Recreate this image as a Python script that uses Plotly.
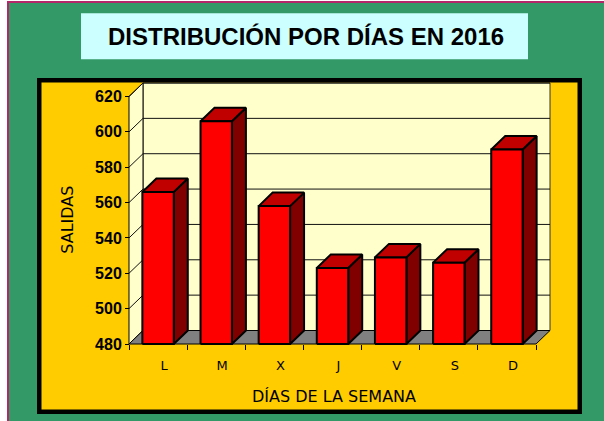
import plotly.graph_objects as go

# ---------------- data ----------------
DIAS = ["L", "M", "X", "J", "V", "S", "D"]
SALIDAS = [566, 606, 558, 523, 529, 526, 590]
Y_TICKS = [480, 500, 520, 540, 560, 580, 600, 620]

TITLE = "DISTRIBUCIÓN POR DÍAS EN 2016"
Y_TITLE = "SALIDAS"
X_TITLE = "DÍAS DE LA SEMANA"

# ---------------- geometry (pixels) ----------------
W, H = 604, 421
FRONT_L, FRONT_R = 129, 536      # front x axis extent
FRONT_B, FRONT_T = 344, 96.5     # pixel rows of first / last y tick
DEPTH_X, DEPTH_Y = 14, 13.5      # pseudo-3D depth
PAD = 3
BAR_W = 0.54

Y_MIN, Y_MAX = Y_TICKS[0], Y_TICKS[-1]
n = len(DIAS)
ux = (FRONT_R - FRONT_L) / n
uy = (FRONT_B - FRONT_T) / (Y_MAX - Y_MIN)
DX = DEPTH_X / ux
DY = DEPTH_Y / uy

x_lo = -0.5 - PAD / ux
x_hi = n - 0.5 + DX + PAD / ux
y_lo = Y_MIN - PAD / uy
y_hi = Y_MAX + DY + PAD / uy

ML = FRONT_L - PAD
MR = W - (FRONT_R + DEPTH_X + PAD)
MB = H - (FRONT_B + PAD)
MT = FRONT_T - DEPTH_Y - PAD
PW = W - ML - MR
PH = H - MT - MB


def px(x):
    return (x - ML) / PW


def py(y):
    return (H - MB - y) / PH


GREEN = "#339966"
BORDER = "#B4286A"
YELLOW = "#FFCC00"
WALL = "#FFFFCC"
FLOOR = "#808080"
CYAN = "#CCFFFF"
RED = "#FF0000"
RED_TOP = "#C00000"
RED_SIDE = "#800000"

fig = go.Figure()


def poly(xs, ys, fill, lw=1, lc="black"):
    fig.add_trace(go.Scatter(
        x=xs, y=ys, mode="lines", fill="toself", fillcolor=fill,
        line=dict(color=lc, width=lw), hoverinfo="skip", showlegend=False))


xl0, xr0 = -0.5, n - 0.5
# back wall
poly([xl0 + DX, xr0 + DX, xr0 + DX, xl0 + DX, xl0 + DX],
     [Y_MIN + DY, Y_MIN + DY, Y_MAX + DY, Y_MAX + DY, Y_MIN + DY], WALL, 1, "#333333")
# side wall
poly([xl0, xl0 + DX, xl0 + DX, xl0, xl0],
     [Y_MIN, Y_MIN + DY, Y_MAX + DY, Y_MAX, Y_MIN], WALL, 1, "black")
# grid lines
gx, gy = [], []
for v in Y_TICKS[1:]:
    gx += [xl0, xl0 + DX, xr0 + DX, None]
    gy += [v, v + DY, v + DY, None]
fig.add_trace(go.Scatter(x=gx, y=gy, mode="lines", line=dict(color="#111111", width=1),
                         hoverinfo="skip", showlegend=False))
# floor
poly([xl0, xr0, xr0 + DX, xl0 + DX, xl0],
     [Y_MIN, Y_MIN, Y_MIN + DY, Y_MIN + DY, Y_MIN], FLOOR, 1, "black")

# bars
for i, v in enumerate(SALIDAS):
    a, b = i - BAR_W / 2, i + BAR_W / 2
    poly([b, b + DX, b + DX, b, b], [Y_MIN, Y_MIN + DY, v + DY, v, Y_MIN], RED_SIDE, 2)
    poly([a, b, b + DX, a + DX, a], [v, v, v + DY, v + DY, v], RED_TOP, 2)
    poly([a, b, b, a, a], [Y_MIN, Y_MIN, v, v, Y_MIN], RED, 2)

shapes = [
    dict(type="rect", xref="paper", yref="paper", layer="below",
         x0=px(8), x1=px(W + 30), y0=py(2), y1=py(H + 30),
         fillcolor=GREEN, line=dict(color=BORDER, width=2)),
    dict(type="rect", xref="paper", yref="paper", layer="below",
         x0=px(39.25), x1=px(579.75), y0=py(80.25), y1=py(411.75),
         fillcolor=YELLOW, line=dict(color="black", width=4.5)),
    dict(type="rect", xref="paper", yref="paper", layer="below",
         x0=px(81), x1=px(528), y0=py(13.3), y1=py(59.3),
         fillcolor=CYAN, line=dict(width=0)),
]

annotations = [
    dict(text=TITLE, x=px(306), y=py(36), xref="paper", yref="paper",
         showarrow=False, xanchor="center", yanchor="middle",
         font=dict(family="Liberation Sans, Arial, sans-serif", size=24, color="black", weight="bold")),
    dict(text=Y_TITLE, x=px(66.7), y=py(220), xref="paper", yref="paper", textangle=-90,
         showarrow=False, xanchor="center", yanchor="middle",
         font=dict(family="DejaVu Sans, sans-serif", size=16, color="black")),
    dict(text=X_TITLE, x=px(334), y=py(396), xref="paper", yref="paper",
         showarrow=False, xanchor="center", yanchor="middle",
         font=dict(family="DejaVu Sans, sans-serif", size=16, color="black")),
]

fig.update_layout(
    width=W, height=H, autosize=False,
    margin=dict(l=ML, r=MR, t=MT, b=MB, pad=0),
    paper_bgcolor="white", plot_bgcolor="rgba(0,0,0,0)",
    showlegend=False, hovermode=False,
    shapes=shapes, annotations=annotations,
    xaxis=dict(range=[x_lo, x_hi], tickmode="array", tickvals=list(range(n)), ticktext=DIAS,
               ticks="", ticklabelshift=6, ticklabelstandoff=12,
               tickfont=dict(family="DejaVu Sans, sans-serif", size=13, color="black"),
               showgrid=False, zeroline=False, showline=False,
               anchor="free", position=PAD / PH,
               minor=dict(tickmode="array", tickvals=[k - 0.5 for k in range(n + 1)],
                          ticks="outside", ticklen=5, tickcolor="black", tickwidth=1,
                          showgrid=False)),
    yaxis=dict(range=[y_lo, y_hi], tickmode="array", tickvals=Y_TICKS,
               ticks="outside", ticklen=4, tickcolor="black", tickwidth=1,
               tickfont=dict(family="Liberation Sans, Arial, sans-serif", size=16, color="black", weight="bold"),
               showgrid=False, zeroline=False, showline=False,
               anchor="free", position=PAD / PW),
)

fig.write_html("out.html", config={"displayModeBar": False},
               post_script="document.body.style.margin='0px';document.body.style.overflow='hidden';")
